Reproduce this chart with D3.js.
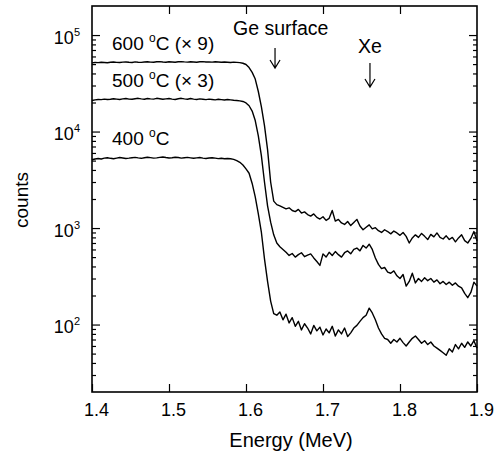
<!DOCTYPE html>
<html>
<head>
<meta charset="utf-8">
<script src="https://cdn.jsdelivr.net/npm/d3@7"></script>
<style>
  html, body { margin: 0; padding: 0; background: #fff; }
  svg { display: block; font-family: "Liberation Sans", Arial, Helvetica, sans-serif; }
</style>
</head>
<body>
<svg id="chart" width="502" height="459"></svg>
<script>
// channels: energy = E_START + i * E_STEP (MeV)
const E_START = 1.4;
const E_STEP = 0.004;

// 600 °C spectrum, already multiplied by 9
const counts600 = [
  51500, 52000, 51800, 52300, 52000, 51600, 52200, 52500, 52100, 51900,
  52400, 52600, 52200, 52000, 52700, 52300, 52100, 52600, 52900, 52400,
  52200, 52800, 53000, 52500, 52300, 52900, 52600, 52200, 52800, 53100,
  52700, 52400, 52900, 52600, 52300, 52800, 53000, 52500, 52700, 52400,
  52800, 52500, 52200, 52600, 52300, 52000, 52400, 52100, 51800,
  51000, 49500, 46000, 41000, 35000, 26000, 18000, 11500, 6500, 3000, 1900, 1750,
  1700, 1640, 1580, 1620, 1520, 1480, 1560, 1430, 1470, 1380,
  1330, 1400, 1290, 1240, 1310, 1200, 1260, 1520, 1180, 1230,
  1130, 1090, 1170, 1060, 1140, 1230, 1050, 960, 1020, 1080,
  980, 1010, 940, 900, 960, 920, 870, 930, 890, 840,
  900, 820, 700, 790, 850, 800, 880, 820, 760, 860,
  810, 890, 800, 770, 830, 760, 800, 720, 790, 850,
  740, 700, 780, 920, 740
];

// 500 °C spectrum, already multiplied by 3
const counts500 = [
  21000, 21300, 21500, 21400, 21700, 21500, 21600, 21900, 21700, 21500,
  21800, 22000, 21700, 21600, 21900, 22100, 21800, 21600, 22000, 21800,
  21700, 22100, 21900, 21600, 21800, 22000, 21700, 21500, 21900, 22100,
  21800, 21600, 22000, 21700, 21500, 21800, 21600, 21400, 21700, 21500,
  21300, 21600, 21400, 21200, 21500, 21300, 21100, 21000, 20800, 20500,
  19800, 18500, 16300, 13000, 9000, 5600, 3000, 1700, 1150, 850, 700,
  640, 600, 560, 520, 545, 500, 530, 555, 505, 525,
  540, 490, 450, 410, 540, 500, 560, 520, 570, 530,
  500, 555, 580, 540, 600, 620, 580, 660, 620, 680,
  600, 490, 420, 380, 390, 350, 340, 360, 320, 300,
  330, 250, 280, 340, 270, 300, 280, 305, 285, 300,
  275, 290, 265, 280, 260, 275, 255, 270, 250, 240,
  210, 190, 215, 275, 250
];

// 400 °C spectrum
const counts400 = [
  5100, 5200, 5250, 5200, 5300, 5350, 5280, 5220, 5300, 5380,
  5320, 5250, 5300, 5360, 5400, 5330, 5280, 5350, 5420, 5370,
  5300, 5340, 5400, 5450, 5380, 5320, 5360, 5420, 5380, 5300,
  5350, 5400, 5340, 5280, 5330, 5380, 5300, 5250, 5320, 5360,
  5300, 5240, 5280, 5220, 5260, 5220,
  5150, 5000, 4800, 4500, 4100, 3700, 2900, 2100, 1400, 900, 480, 280, 175, 130, 125,
  135, 112, 128, 104, 118, 96, 108, 88, 102, 92,
  80, 98, 86, 94, 78, 90, 82, 96, 76, 88,
  80, 92, 75, 82, 92, 98, 108, 118, 125, 148,
  132, 112, 92, 80, 72, 70, 64, 70, 66, 72,
  65, 60, 66, 72, 76, 70, 64, 68, 62, 66,
  60, 57, 54, 51, 48, 56, 52, 62, 56, 64,
  58, 66, 60, 68, 57
];

const xTicks = [1.4, 1.5, 1.6, 1.7, 1.8, 1.9];
const xInnerTicks = [1.5, 1.6, 1.7, 1.8];
const yMajor = [1e2, 1e3, 1e4, 1e5];
const yMinor = [30, 40, 50, 60, 70, 80, 90,
  200, 300, 400, 500, 600, 700, 800, 900,
  2000, 3000, 4000, 5000, 6000, 7000, 8000, 9000,
  20000, 30000, 40000, 50000, 60000, 70000, 80000, 90000];

const series = [
  { name: "600", values: counts600 },
  { name: "500", values: counts500 },
  { name: "400", values: counts400 }
];

const SVG = d3.select("#chart");
const LEFT = 92, RIGHT = 477, TOP = 6, BOTTOM = 392;

const x = d3.scaleLinear().domain([1.4, 1.9]).range([LEFT, RIGHT]);
const y = d3.scaleLog().domain([20, 2e5]).range([BOTTOM, TOP]);

// ticks, all pointing inward
function styleAxis(g) {
  g.select(".domain").remove();
  g.selectAll(".tick line").attr("stroke", "#000").attr("stroke-width", 1.2);
}

SVG.append("g")
  .attr("transform", `translate(0,${BOTTOM})`)
  .call(d3.axisBottom(x).tickValues(xTicks).tickSize(-8).tickPadding(11).tickFormat(d3.format(".1f")))
  .call(styleAxis)
  .call(g => g.selectAll(".tick text")
    .attr("font-size", 18).attr("fill", "#000").attr("dx", 4)
    .attr("font-family", "Liberation Sans, Arial, sans-serif"));

SVG.append("g")
  .attr("transform", `translate(0,${TOP})`)
  .call(d3.axisTop(x).tickValues(xInnerTicks).tickSize(-8).tickFormat(""))
  .call(styleAxis);

const leftAxis = SVG.append("g")
  .attr("transform", `translate(${LEFT},0)`)
  .call(d3.axisLeft(y).tickValues(yMajor).tickSize(-8).tickPadding(12).tickFormat(""))
  .call(styleAxis);

leftAxis.selectAll(".tick text")
  .attr("fill", "#000")
  .attr("font-size", 18)
  .attr("font-family", "Liberation Sans, Arial, sans-serif")
  .attr("dy", 8)
  .each(function(d) {
    const t = d3.select(this);
    t.append("tspan").text("10");
    t.append("tspan").attr("dy", -8).attr("font-size", 11).text(Math.round(Math.log10(d)));
  });

SVG.append("g")
  .attr("transform", `translate(${LEFT},0)`)
  .call(d3.axisLeft(y).tickValues(yMinor).tickSize(-4).tickFormat(""))
  .call(styleAxis);

SVG.append("g")
  .attr("transform", `translate(${RIGHT},0)`)
  .call(d3.axisRight(y).tickValues(yMajor).tickSize(-8).tickFormat(""))
  .call(styleAxis);

SVG.append("g")
  .attr("transform", `translate(${RIGHT},0)`)
  .call(d3.axisRight(y).tickValues(yMinor).tickSize(-4).tickFormat(""))
  .call(styleAxis);

// frame
SVG.append("rect")
  .attr("x", LEFT).attr("y", TOP)
  .attr("width", RIGHT - LEFT).attr("height", BOTTOM - TOP)
  .attr("fill", "none").attr("stroke", "#000").attr("stroke-width", 1.6);

// spectra
const line = d3.line()
  .x((d, i) => x(E_START + i * E_STEP))
  .y(d => y(d));

SVG.append("g").selectAll("path")
  .data(series)
  .join("path")
  .attr("d", d => line(d.values))
  .attr("fill", "none")
  .attr("stroke", "#000")
  .attr("stroke-width", 1.4)
  .attr("stroke-linejoin", "round");

// curve labels
const labelData = [
  { t: "600", extra: " (× 9)", yy: 50 },
  { t: "500", extra: " (× 3)", yy: 87 },
  { t: "400", extra: "", yy: 145 }
];
labelData.forEach(l => {
  const txt = SVG.append("text")
    .attr("x", 112).attr("y", l.yy)
    .attr("font-size", 19).attr("fill", "#000");
  txt.append("tspan").text(l.t + " ");
  txt.append("tspan").attr("dy", -8).attr("font-size", 12).text("o");
  txt.append("tspan").attr("dy", 8).text("C" + l.extra);
});

// annotations with arrows
SVG.append("text").attr("x", 233).attr("y", 35)
  .attr("font-size", 19.5).attr("fill", "#000").text("Ge surface");
SVG.append("text").attr("x", 358).attr("y", 53)
  .attr("font-size", 19.5).attr("fill", "#000").text("Xe");

const arrows = [
  { e: 1.6377, y0: 48, y1: 68 },
  { e: 1.761, y0: 63, y1: 87 }
];
SVG.append("g").selectAll("path")
  .data(arrows)
  .join("path")
  .attr("d", a => {
    const ax = x(a.e);
    return `M${ax},${a.y0}V${a.y1}M${ax - 5},${a.y1 - 8}L${ax},${a.y1}L${ax + 5},${a.y1 - 8}`;
  })
  .attr("fill", "none").attr("stroke", "#000").attr("stroke-width", 1.2);

// axis titles
SVG.append("text")
  .attr("x", 291).attr("y", 447)
  .attr("text-anchor", "middle")
  .attr("font-size", 20).attr("fill", "#000")
  .text("Energy (MeV)");

SVG.append("text")
  .attr("transform", "translate(28,200) rotate(-90)")
  .attr("text-anchor", "middle")
  .attr("font-size", 19).attr("fill", "#000")
  .text("counts");
</script>
</body>
</html>
